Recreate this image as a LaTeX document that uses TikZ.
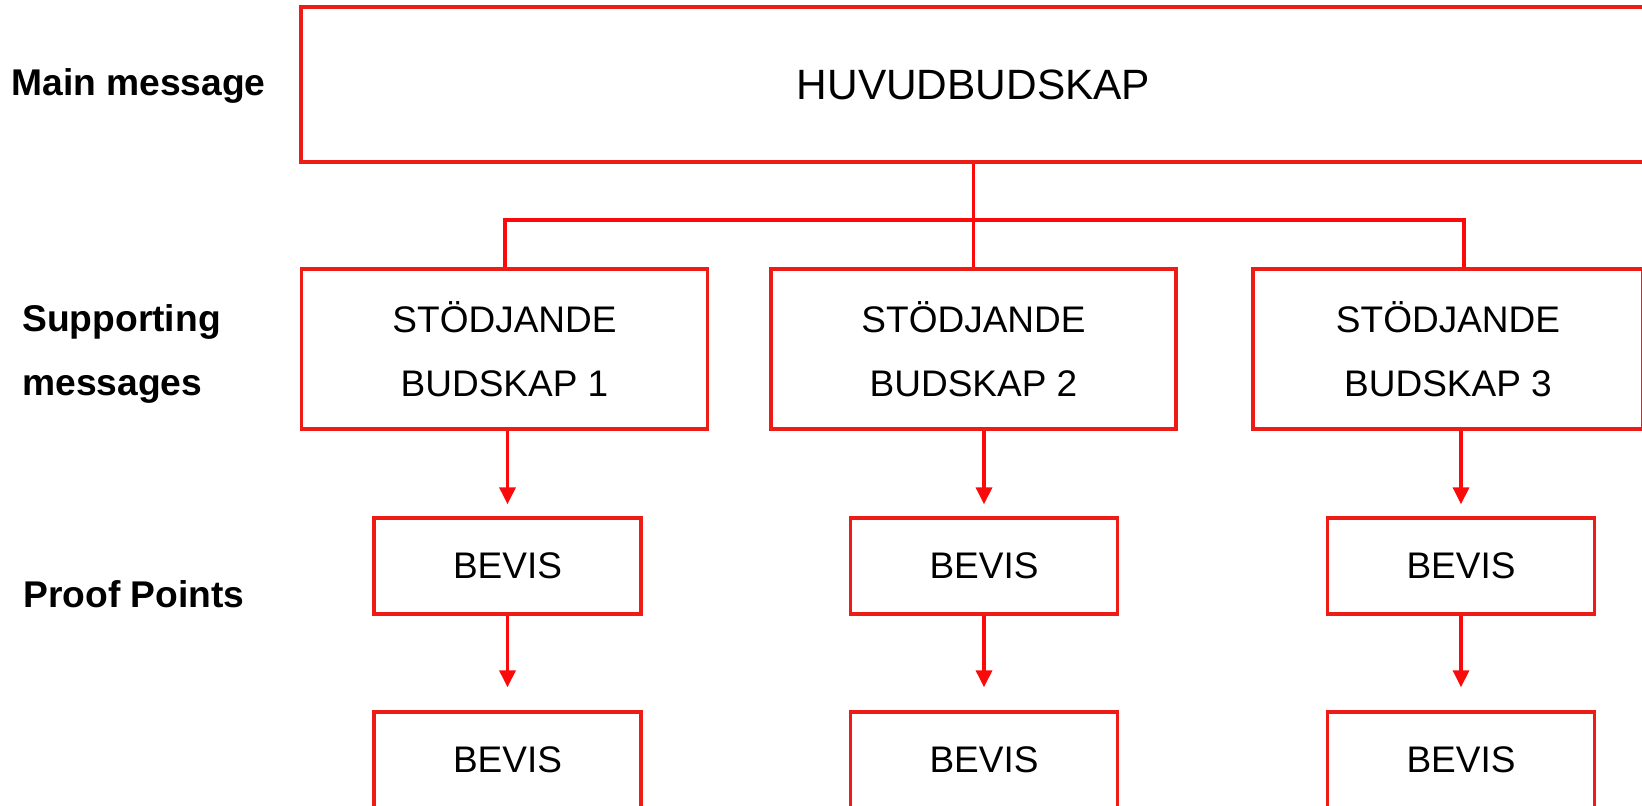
\documentclass[tikz,border=0pt]{standalone}
\usepackage{fontspec}
\setmainfont{Liberation Sans}
\usetikzlibrary{arrows.meta}
\definecolor{msgred}{RGB}{238,28,22}
\definecolor{linkred}{RGB}{250,10,10}
\begin{document}
\begin{tikzpicture}[x=0.5pt,y=-0.5pt,
  box/.style={draw=msgred,line width=1.7pt,rectangle,inner sep=0pt,
    font=\fontsize{18.5}{32}\selectfont,align=center},
  lbl/.style={anchor=base west,inner sep=0pt,font=\fontsize{18.6}{32}\selectfont\bfseries,align=left},
  link/.style={draw=linkred,line width=1.7pt},
  pointer/.style={link,-{Triangle[length=8.5pt,width=8pt]}}]
  \useasboundingbox (0,0) rectangle (1642,805);
  \clip (0,0) rectangle (1642,805);
  \node[lbl] (lblmain) at (11,95) {Main message};
  \node[lbl] (lblsup) at (22,395) {Supporting\\messages};
  \node[lbl] (lblproof) at (23,607) {Proof Points};
  \node[box,minimum width=672.5pt,minimum height=77.5pt,
    font=\fontsize{21.2}{24}\selectfont] (main) at (973.5,84.5) {HUVUDBUDSKAP};
  \foreach \i/\sx/\sw/\bx in {1/504.5/203pt/507.5,2/973.5/202.5pt/984,3/1448/195pt/1461}{
    \node[box,minimum width=\sw,minimum height=80pt] (sup\i) at (\sx,349) {STÖDJANDE\\BUDSKAP \i};
    \node[box,minimum width=133.5pt,minimum height=48pt] (bevA\i) at (\bx,566) {BEVIS};
    \node[box,minimum width=133.5pt,minimum height=48pt] (bevB\i) at (\bx,760) {BEVIS};
    \draw[pointer,shorten >=6pt] (bevA\i.north |- sup\i.south) -- (bevA\i.north);
    \draw[pointer,shorten >=11.5pt] (bevA\i.south) -- (bevB\i.north);
  }
  \coordinate (busL) at (505,220);
  \coordinate (busR) at (1464,220);
  \draw[link] (main.south) -- (sup2.north);
  \draw[link] (sup1.north -| busL) -- (busL) -- (busR) -- (sup3.north -| busR);
\end{tikzpicture}
\end{document}
